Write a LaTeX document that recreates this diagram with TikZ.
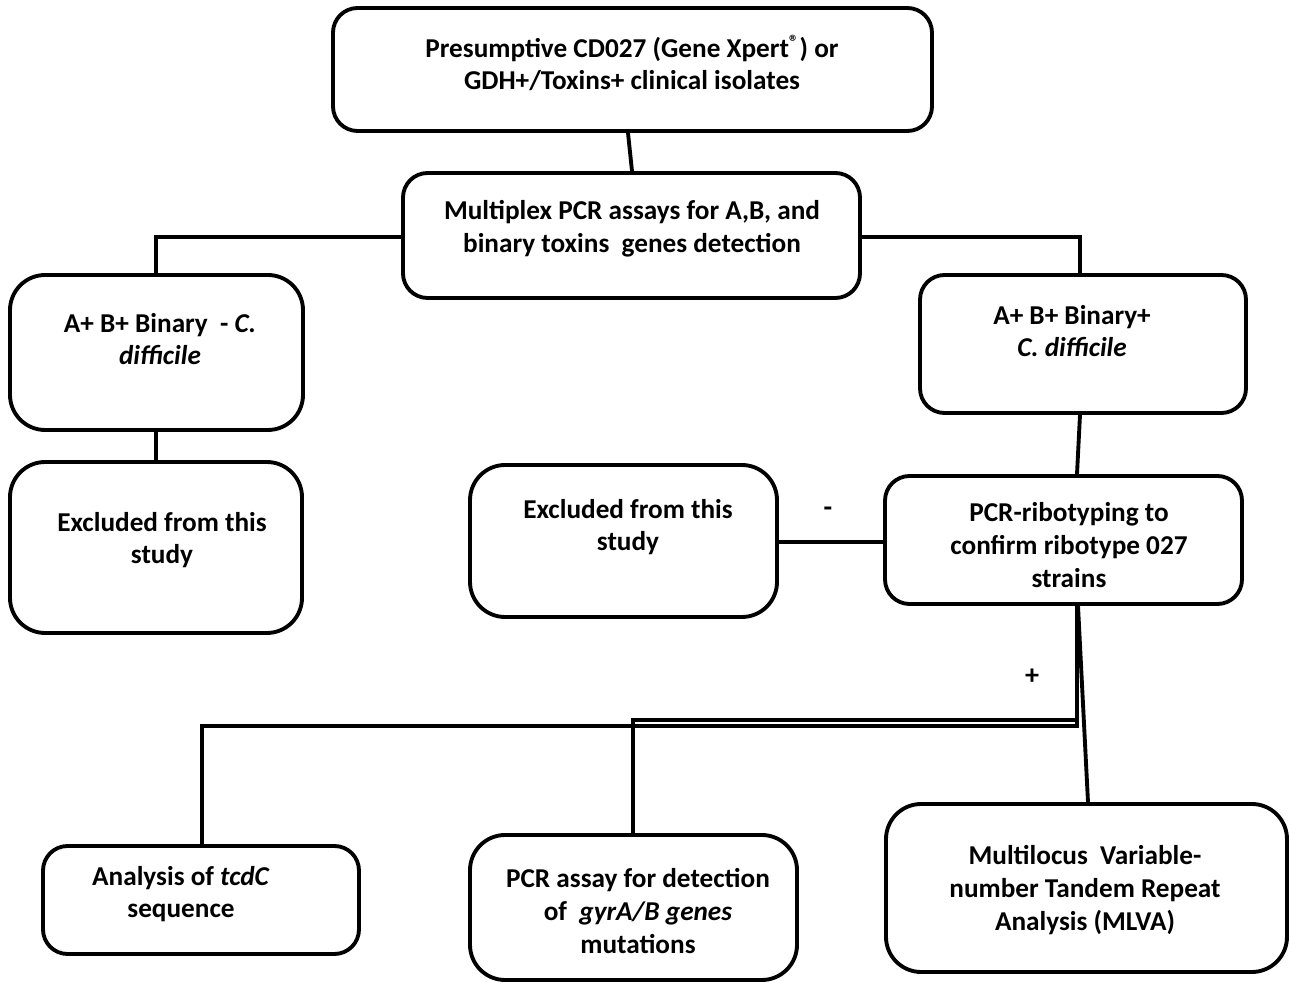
\documentclass[tikz,border=0pt]{standalone}
\usepackage{fontspec}
\setmainfont{Carlito}
\usetikzlibrary{fit}
\begin{document}
\begin{tikzpicture}[x=0.02cm,y=-0.02cm,
  box/.style={draw,line width=2.2pt,rounded corners=14pt,inner sep=0pt},
  txt/.style={align=center,font=\bfseries\fontsize{15.5pt}{18.6pt}\selectfont,inner sep=0pt},
  sign/.style={font=\bfseries\fontsize{16pt}{18pt}\selectfont,inner sep=0pt},
  link/.style={line width=2.2pt}]
\useasboundingbox (0,0) rectangle (1289,982);
% boxes
\node[box,fit={(333,8) (932,131)}] (top) {};
\node[box,fit={(403,173) (860,298)}] (mpx) {};
\node[box,fit={(10,275) (303,430)},rounded corners=20pt] (neg) {};
\node[box,fit={(920,275) (1246,413)}] (pos) {};
\node[box,fit={(10,462) (302,633)},rounded corners=20pt] (exl) {};
\node[box,fit={(470,465) (777,617)},rounded corners=20pt] (exm) {};
\node[box,fit={(885,476) (1242,604)}] (rib) {};
\node[box,fit={(43,846) (359,954)}] (tcd) {};
\node[box,fit={(470,835) (797,980)},rounded corners=20pt] (gyr) {};
\node[box,fit={(886,804) (1287,972)},rounded corners=20pt] (mlv) {};
% labels
\node[txt] (ttop) at (632,63) {Presumptive CD027 (Gene Xpert\textsuperscript{®}) or\\GDH+/Toxins+ clinical isolates};
\node[txt] (tmpx) at (632,229) {Multiplex PCR assays for A,B, and\\binary toxins\ \ genes detection};
\node[txt] (tneg) at (160,339) {A+ B+ Binary\ \ - \textit{C.}\\\textit{difficile}};
\node[txt] (tpos) at (1072,331) {A+ B+ Binary+\\\textit{C. difficile}};
\node[txt] (texl) at (162,540) {Excluded from this\\study};
\node[txt] (texm) at (628,527) {Excluded from this\\study};
\node[txt] (trib) at (1069,545) {PCR-ribotyping to\\confirm ribotype 027\\strains};
\node[txt] (ttcd) at (181,894) {Analysis of \textit{tcdC}\\sequence};
\node[txt] (tgyr) at (638,911) {PCR assay for detection\\of\ \ \textit{gyrA/B genes}\\mutations};
\node[txt] (tmlv) at (1085,890) {Multilocus\ \ Variable-\\number Tandem Repeat\\Analysis (MLVA)};
\node[sign] (minus) at (828,512) {-};
\node[sign] (plus) at (1032,677) {+};
% junction points
\coordinate (jl) at (156,237);
\coordinate (jr) at (1080,237);
\coordinate (rb) at (1077,720);
\coordinate (gm) at (633,720);
\coordinate (rb2) at (1077,726);
\coordinate (tm) at (202,726);
% connectors
\draw[link] (top.south -| 628,0) -- (mpx.north -| 632,0);
\draw[link] (mpx.west |- jl) -- (jl) -- (neg.north -| jl);
\draw[link] (mpx.east |- jr) -- (jr) -- (pos.north -| jr);
\draw[link] (neg.south -| 156,0) -- (exl.north -| 156,0);
\draw[link] (pos.south -| 1080,0) -- (rib.north -| 1077,0);
\draw[link] (exm.east |- 0,542) -- (rib.west |- 0,542);
\draw[link] (rib.south -| rb) -- (rb) -- (gm) -- (gyr.north -| gm);
\draw[link] (rb) -- (rb2) -- (tm) -- (tcd.north -| tm);
\draw[link] (rib.south -| 1078,0) -- (mlv.north -| 1088,0);
\end{tikzpicture}
\end{document}
